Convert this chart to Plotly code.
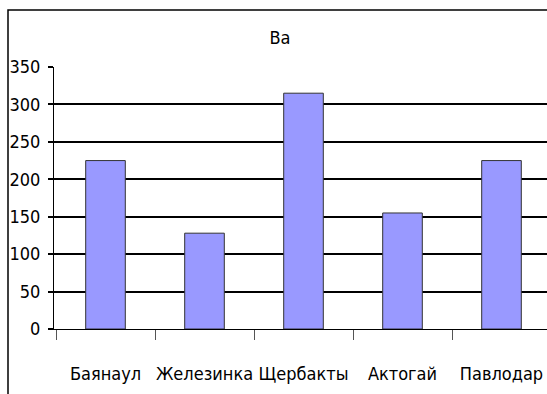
import plotly.graph_objects as go

# Barium content by location
title_text = "Ba"
locations = ["Баянаул", "Железинка", "Щербакты", "Актогай", "Павлодар"]
ba_values = [225, 128, 315, 155, 225]
y_ticks = [0, 50, 100, 150, 200, 250, 300, 350]

FONT = "DejaVu Sans Condensed, sans-serif"
FSIZE = 18

fig = go.Figure(
    go.Bar(
        x=locations,
        y=ba_values,
        width=0.4,
        marker=dict(color="#9999FF", line=dict(color="#333333", width=1)),
    )
)

W, H = 547, 394
L, R, T, B = 54, 0, 67, 65
plot_w = W - L - R
plot_h = H - T - B
BAND = 99.0
X_OFFSET = 2.0  # first category band starts slightly right of the value axis

fig.update_layout(
    width=W,
    height=H,
    margin=dict(l=L, r=R, t=T, b=B, pad=0),
    paper_bgcolor="white",
    plot_bgcolor="white",
    showlegend=False,
    font=dict(family=FONT, size=FSIZE, color="black"),
    title=dict(
        text=title_text,
        x=280 / W,
        xanchor="center",
        y=1 - 38 / H,
        yanchor="middle",
        font=dict(family=FONT, size=FSIZE, color="black"),
    ),
)

fig.update_xaxes(
    type="category",
    range=[-0.5 - X_OFFSET / BAND, -0.5 + (plot_w - X_OFFSET) / BAND],
    automargin=False,
    tickangle=0,
    showgrid=False,
    showline=True,
    linecolor="black",
    linewidth=1,
    ticks="outside",
    tickson="boundaries",
    ticklen=10,
    tickcolor="#555555",
    tickwidth=1,
    ticklabelstandoff=28,
    tickfont=dict(family=FONT, size=FSIZE, color="black"),
)

fig.update_yaxes(
    range=[0, 350],
    tickvals=y_ticks,
    automargin=False,
    showgrid=True,
    gridcolor="black",
    gridwidth=1.5,
    showline=True,
    linecolor="black",
    linewidth=1,
    ticks="outside",
    ticklen=5,
    tickcolor="black",
    tickwidth=1.5,
    ticklabelstandoff=4,
    zeroline=False,
    tickfont=dict(family=FONT, size=FSIZE, color="black"),
)

# Outer chart border (frame runs past the right and bottom edges)
x0 = (8 - L) / plot_w
y1 = 1 + (T - 10) / plot_h
fig.add_shape(
    type="rect",
    xref="paper",
    yref="paper",
    x0=x0,
    x1=1.2,
    y0=-0.5,
    y1=y1,
    line=dict(color="black", width=1.5),
    fillcolor="rgba(0,0,0,0)",
    layer="above",
)

fig.write_html("out.html")
